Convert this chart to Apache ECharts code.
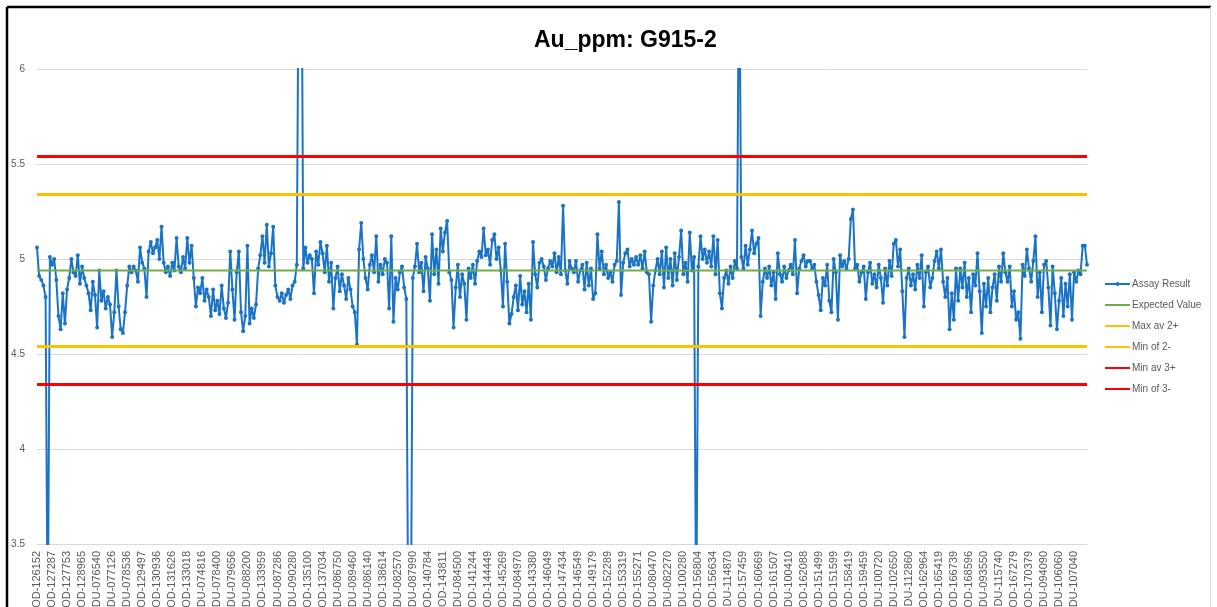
<!DOCTYPE html>
<html>
<head>
<meta charset="utf-8">
<script src="https://cdn.jsdelivr.net/npm/echarts@6/dist/echarts.min.js"></script>
<style>
  html, body { margin: 0; padding: 0; background: #ffffff; }
  #chart { width: 1217px; height: 607px; }
</style>
</head>
<body>
<div id="chart"></div>
<script>
// Sample IDs printed along the category axis (one every labelEvery samples)
const sampleLabels = [
  'POD-126152','POD-127287','POD-127753','POD-128965','DDU-076540','DDU-077126','DDU-078536',
  'POD-129497','POD-130936','POD-131626','POD-133018','DDU-074816','DDU-078400','DDU-079656',
  'DDU-088200','POD-133959','DDU-087286','DDU-090280','POD-135100','POD-137034','DDU-086750',
  'DDU-089460','DDU-086140','POD-138614','DDU-082570','DDU-087990','POD-140784','POD-143811',
  'DDU-084500','POD-141244','POD-144449','POD-145269','DDU-084970','POD-143380','POD-146049',
  'POD-147434','POD-146549','POD-149179','POD-152289','POD-153319','POD-155271','DDU-080470',
  'DDU-082270','DDU-100280','POD-156804','POD-156634','DDU-114870','POD-157459','POD-160669',
  'POD-161507','DDU-100410','POD-162088','POD-151499','POD-151599','POD-158419','POD-159459',
  'DDU-100720','DDU-102650','DDU-112860','POD-162964','POD-165419','POD-166739','POD-168596',
  'DDU-093550','DDU-115740','POD-167279','POD-170379','DDU-094090','DDU-106060','DDU-107040'
];
const labelEvery = 7;

// Au assay results (ppm) for standard G915-2, in submission order
const assayResult = [
  5.06, 4.91, 4.89, 4.86, 4.80, 2.95, 5.01, 4.97, 5.00, 4.89,
  4.70, 4.63, 4.82, 4.66, 4.84, 4.90, 5.00, 4.93, 4.91, 5.02,
  4.87, 4.96, 4.90, 4.86, 4.82, 4.73, 4.88, 4.81, 4.64, 4.94,
  4.78, 4.83, 4.74, 4.80, 4.76, 4.59, 4.72, 4.94, 4.75, 4.63,
  4.61, 4.72, 4.86, 4.96, 4.93, 4.96, 4.94, 4.88, 5.06, 4.98,
  4.95, 4.80, 5.04, 5.09, 5.03, 5.06, 5.10, 5.00, 5.17, 4.98,
  4.93, 4.96, 4.91, 4.98, 4.94, 5.11, 4.96, 4.93, 5.01, 4.95,
  5.11, 4.98, 5.07, 4.90, 4.75, 4.85, 4.82, 4.90, 4.78, 4.84,
  4.80, 4.70, 4.84, 4.73, 4.78, 4.71, 4.86, 4.74, 4.69, 4.77,
  5.04, 4.84, 4.68, 4.93, 5.04, 4.72, 4.62, 4.70, 5.07, 4.66,
  4.74, 4.69, 4.76, 4.95, 5.02, 5.12, 4.98, 5.18, 4.96, 5.03,
  5.17, 4.86, 4.80, 4.78, 4.82, 4.77, 4.81, 4.84, 4.79, 4.86,
  4.88, 4.97, 6.90, 7.20, 4.95, 5.06, 4.98, 5.02, 5.00, 4.82,
  5.04, 4.97, 5.09, 5.03, 4.93, 5.07, 4.88, 4.98, 4.74, 4.90,
  4.96, 4.83, 4.92, 4.86, 4.79, 4.90, 4.84, 4.75, 4.72, 4.55,
  5.05, 5.19, 5.00, 4.90, 4.84, 4.97, 5.02, 4.93, 5.12, 4.88,
  4.97, 4.92, 5.00, 4.98, 4.74, 5.12, 4.67, 4.90, 4.84, 4.93,
  4.96, 4.85, 4.79, 2.85, 2.80, 4.90, 4.96, 5.08, 4.93, 4.98,
  4.83, 5.01, 4.95, 4.78, 5.13, 4.92, 5.05, 4.87, 5.16, 5.04,
  5.14, 5.20, 4.93, 4.89, 4.64, 4.85, 4.97, 4.80, 4.92, 4.87,
  4.68, 4.95, 4.90, 4.97, 4.87, 4.99, 5.04, 5.01, 5.16, 5.02,
  5.05, 4.97, 5.10, 5.13, 5.00, 5.06, 4.94, 4.75, 5.08, 4.88,
  4.66, 4.71, 4.80, 4.86, 4.73, 4.91, 4.76, 4.83, 4.72, 4.87,
  4.68, 5.09, 4.92, 4.85, 4.98, 5.00, 4.96, 4.89, 4.95, 4.99,
  4.96, 5.03, 4.93, 5.01, 4.92, 5.28, 4.94, 4.87, 4.99, 4.95,
  4.93, 4.99, 4.88, 4.94, 4.97, 4.84, 4.98, 4.86, 4.95, 4.79,
  4.82, 5.13, 4.95, 5.04, 4.92, 4.97, 4.90, 4.93, 4.88, 4.97,
  4.99, 5.30, 4.81, 4.98, 5.03, 5.05, 4.96, 5.00, 4.97, 5.01,
  4.97, 5.02, 4.95, 5.04, 4.93, 4.92, 4.67, 4.86, 4.94, 5.00,
  4.92, 5.04, 4.85, 5.06, 4.90, 5.00, 4.86, 5.03, 4.89, 5.01,
  5.15, 4.92, 4.98, 4.88, 5.14, 4.94, 5.01, 3.00, 4.96, 5.12,
  5.00, 5.05, 4.98, 5.04, 4.96, 5.12, 4.92, 5.10, 4.82, 4.74,
  4.90, 4.94, 4.87, 4.96, 4.90, 4.99, 4.95, 6.80, 5.01, 4.95,
  5.07, 4.97, 5.05, 5.15, 5.03, 5.08, 5.11, 4.70, 4.88, 4.95,
  4.90, 4.96, 4.86, 4.93, 4.79, 5.03, 4.92, 4.88, 4.96, 4.90,
  4.94, 4.97, 4.92, 5.10, 4.82, 4.95, 4.99, 5.02, 4.96, 4.99,
  4.99, 4.95, 4.97, 4.88, 4.81, 4.73, 4.90, 4.86, 4.97, 4.78,
  4.72, 5.00, 4.93, 4.68, 5.02, 4.96, 4.99, 4.95, 5.00, 5.21,
  5.26, 4.95, 4.97, 4.88, 4.93, 4.96, 4.79, 4.93, 4.98, 4.87,
  4.92, 4.85, 4.97, 4.90, 4.77, 4.95, 4.86, 4.99, 4.91, 5.08,
  5.10, 4.96, 5.05, 4.83, 4.59, 4.90, 4.95, 4.86, 4.92, 4.84,
  4.97, 4.90, 5.02, 4.75, 4.93, 4.96, 4.85, 4.90, 4.99, 5.04,
  4.95, 5.05, 4.88, 4.80, 4.90, 4.63, 4.82, 4.68, 4.95, 4.78,
  4.95, 4.85, 4.98, 4.80, 4.90, 4.72, 4.92, 4.86, 5.03, 4.83,
  4.61, 4.87, 4.75, 4.90, 4.72, 4.85, 4.92, 4.78, 4.96, 4.88,
  5.03, 4.93, 4.88, 4.96, 4.75, 4.83, 4.68, 4.72, 4.58, 4.97,
  4.91, 5.05, 4.95, 4.88, 4.99, 5.12, 4.80, 4.93, 4.72, 4.97,
  4.99, 4.85, 4.65, 4.96, 4.82, 4.63, 4.78, 4.90, 4.70, 4.87,
  4.75, 4.92, 4.68, 4.93, 4.88, 4.94, 4.92, 5.07, 5.07, 4.97
];

// Certified value and control limits (ppm)
const expectedValue = 4.94;
const maxAv2 = 5.34;
const minOf2 = 4.54;
const minAv3 = 5.54;
const minOf3 = 4.34;

// Value axis range and step
const yMin = 3.5;
const yMax = 6;
const yStep = 0.5;

const categories = assayResult.map((_, i) =>
  i % labelEvery === 0 ? (sampleLabels[i / labelEvery] || '') : ''
);
const flat = (v) => assayResult.map(() => v);

const chart = echarts.init(document.getElementById('chart'), null, { renderer: 'canvas' });

// Horizontal control-limit line drawn as a flat series (plain line in the legend)
const limitSeries = (name, value, color, width) => ({
  name: name,
  type: 'line',
  data: flat(value),
  symbol: 'none',
  lineStyle: { color: color, width: width },
  itemStyle: { color: color, opacity: 0 },
  z: 3,
  silent: true
});

chart.setOption({
  animation: false,
  backgroundColor: '#ffffff',
  textStyle: { fontFamily: 'Liberation Sans, Arial, sans-serif' },
  title: {
    text: 'Au_ppm: G915-2',
    left: 529,
    top: 24,
    textStyle: { fontSize: 23, fontWeight: 'bold', color: '#000000', fontFamily: 'Liberation Sans, Arial, sans-serif' }
  },
  legend: {
    orient: 'vertical',
    left: 1104,
    top: 279,
    padding: 0,
    itemWidth: 25,
    itemHeight: 5,
    itemGap: 11,
    textStyle: { fontSize: 10, color: '#595959', padding: [0, 0, 0, -3] },
    data: ['Assay Result', 'Expected Value', 'Max av 2+', 'Min of 2-', 'Min av 3+', 'Min of 3-']
  },
  grid: { left: 37, right: 130, top: 69, bottom: 63, containLabel: false, outerBoundsMode: 'none' },
  xAxis: {
    type: 'category',
    data: categories,
    boundaryGap: false,
    axisLine: { show: true, lineStyle: { color: '#d9d9d9', width: 1 } },
    axisTick: { show: false },
    splitLine: { show: false },
    axisLabel: {
      interval: labelEvery - 1,
      rotate: 90,
      fontSize: 11,
      color: '#595959',
      margin: 7
    }
  },
  yAxis: {
    type: 'value',
    min: yMin,
    max: yMax,
    interval: yStep,
    axisLine: { show: false },
    axisTick: { show: false },
    axisLabel: { fontSize: 10, color: '#595959', margin: 12 },
    splitLine: { lineStyle: { color: '#d9d9d9', width: 1 } }
  },
  series: [
    {
      name: 'Assay Result',
      type: 'line',
      data: assayResult,
      symbol: 'circle',
      symbolSize: 4,
      showSymbol: true,
      showAllSymbol: true,
      clip: true,
      lineStyle: { color: '#1a73c5', width: 2 },
      itemStyle: { color: '#1a73c5' },
      z: 2
    },
    limitSeries('Expected Value', expectedValue, '#70ad47', 2),
    limitSeries('Max av 2+', maxAv2, '#ffc000', 3),
    limitSeries('Min of 2-', minOf2, '#ffc000', 3),
    limitSeries('Min av 3+', minAv3, '#ff0000', 3),
    limitSeries('Min of 3-', minOf3, '#ff0000', 3)
  ],
  graphic: [
    { type: 'line', shape: { x1: 7, y1: 7, x2: 1211, y2: 7 }, style: { stroke: '#000000', lineWidth: 2.5 }, silent: true },
    { type: 'line', shape: { x1: 7, y1: 7, x2: 7, y2: 607 }, style: { stroke: '#000000', lineWidth: 2.5 }, silent: true },
    { type: 'line', shape: { x1: 1210.5, y1: 7, x2: 1210.5, y2: 607 }, style: { stroke: '#d9d9d9', lineWidth: 1 }, silent: true }
  ]
});
</script>
</body>
</html>
